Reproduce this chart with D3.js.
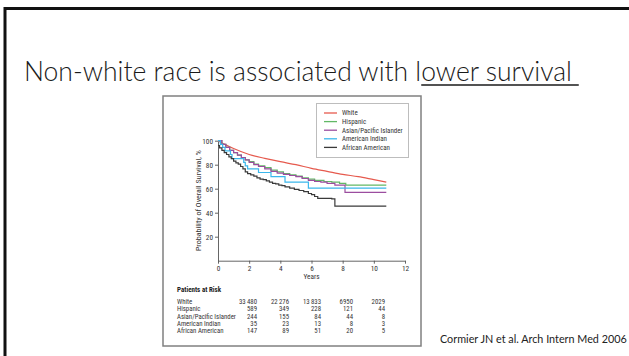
<!DOCTYPE html>
<html>
<head>
<meta charset="utf-8">
<script src="https://cdn.jsdelivr.net/npm/d3@7"></script>
<style>
  body { margin: 0; background: #fff; }
  svg { display: block; }
</style>
</head>
<body>
<script>
// series: [years, % surviving]
const groups = ["White", "Hispanic", "Asian/Pacific Islander", "American Indian", "African American"];
const colors = ["#e65a4e", "#62b866", "#9b4d9f", "#3bb7ec", "#3a3a3a"];

const white = [[0,100],[0.5,96.5],[1,93.5],[2,88.5],[3,85.3],[4,82.5],[5,80],[6,77],[7,74.5],[8,72],[9,70],[10,67.5],[10.8,65.5]];
const hispanic = [[0,100],[0.25,97],[0.5,94.5],[0.75,92],[1,90],[1.25,88],[1.5,86],[1.75,84],[2,82.5],[2.3,80.5],[2.6,79],[3,77.5],[3.4,75.5],[3.8,74],[4.2,72.5],[4.6,71.5],[5,70.5],[5.4,69],[5.8,68],[6.2,67],[6.8,66],[7.3,65.5],[7.8,64.5],[8.2,63],[10.8,63]];
const asian = [[0,100],[0.25,97],[0.5,94.5],[0.75,92],[1,90],[1.25,88],[1.5,86],[1.75,84],[2,82],[2.3,80],[2.6,78.5],[3,76.5],[3.4,74.5],[3.8,73],[4.2,72],[4.6,71],[5,70],[5.4,68.5],[5.8,67],[6.2,66],[6.6,65.5],[7,64.5],[7.5,63],[8.15,57],[10.8,57]];
const amIndian = [[0,100],[0.15,97],[0.3,94.5],[0.45,91.5],[0.8,88.5],[0.9,85],[1.65,82],[1.75,79],[1.9,76.5],[2.6,73.5],[3.4,70],[4.3,65.5],[5.8,60.5],[10.8,60.5]];
const afAm = [[0,96],[0.1,94],[0.25,92],[0.4,90],[0.55,88.5],[0.7,86.5],[0.85,85],[1,83],[1.15,81.5],[1.3,80.5],[1.45,78.5],[1.6,76.5],[1.75,74],[1.9,72.5],[2.1,71.5],[2.3,70.5],[2.5,69],[2.7,68],[2.9,67.5],[3.1,66.5],[3.3,65.5],[3.5,64.5],[3.7,64],[3.9,63],[4.1,62.5],[4.3,61.5],[4.6,60.5],[4.9,59.5],[5.2,58.5],[5.5,57.5],[5.8,56],[6,55],[6.2,53.5],[6.4,52],[7.3,51.5],[7.5,45.5],[10.8,45.5]];
const series = [white, hispanic, asian, amIndian, afAm];

const xTicks = [0, 2, 4, 6, 8, 10, 12];
const yTicks = [20, 40, 60, 80, 100];

// patients at risk table
const riskWhite = ["33\u2009480", "22\u2009276", "13\u2009833", "6950", "2029"];
const riskHispanic = ["589", "349", "228", "121", "44"];
const riskAsian = ["244", "155", "84", "44", "8"];
const riskAmIndian = ["35", "23", "13", "8", "3"];
const riskAfAm = ["147", "89", "51", "20", "5"];
const riskRows = [riskWhite, riskHispanic, riskAsian, riskAmIndian, riskAfAm];

const narrow = "'Liberation Sans Narrow', 'Roboto Condensed', 'Arial Narrow', sans-serif";
const slideFont = "Lato, 'Open Sans', sans-serif";

const svg = d3.select("body").append("svg")
    .attr("width", 629)
    .attr("height", 356);

// slide frame (left + top)
svg.append("path")
    .attr("d", "M5,356V8.5H629")
    .attr("fill", "none")
    .attr("stroke", "#111")
    .attr("stroke-width", 3);

// title
const txt = "Non-white race is associated with lower survival";
const title = svg.append("text")
    .attr("x", 24)
    .attr("y", 81)
    .attr("font-family", slideFont)
    .attr("font-weight", 300)
    .attr("font-size", 26)
    .attr("fill", "#1a1a1a")
    .text(txt);
const tNode = title.node();
const fs = 26 * 548 / tNode.getComputedTextLength();
title.attr("font-size", fs);
const full = tNode.getComputedTextLength();
const uStart = 24 + tNode.getSubStringLength(0, txt.indexOf("lower") + 1);
svg.append("line")
    .attr("x1", uStart).attr("x2", 24 + full + fs * 0.26)
    .attr("y1", 85).attr("y2", 85)
    .attr("stroke", "#1a1a1a").attr("stroke-width", 1.5);

// citation
const cite = svg.append("text")
    .attr("x", 440)
    .attr("y", 343)
    .attr("font-family", slideFont)
    .attr("font-size", 10)
    .attr("fill", "#222")
    .text("Cormier JN et al. Arch Intern Med 2006");
cite.attr("font-size", 10 * 187 / cite.node().getComputedTextLength());

// figure box
svg.append("rect")
    .attr("x", 163).attr("y", 96)
    .attr("width", 258).attr("height", 250)
    .attr("fill", "#fff")
    .attr("stroke", "#808080")
    .attr("stroke-width", 1.5);

const x = d3.scaleLinear().domain([0, 12]).range([218, 405]);
const y = d3.scaleLinear().domain([0, 100]).range([260.7, 140.7]);

const gx = svg.append("g")
    .attr("transform", `translate(0,${y(0)})`)
    .call(d3.axisBottom(x).tickValues(xTicks).tickSize(3).tickSizeOuter(0).tickPadding(2));
const gy = svg.append("g")
    .attr("transform", `translate(${x(0)},0)`)
    .call(d3.axisLeft(y).tickValues(yTicks).tickSize(3).tickSizeOuter(0).tickPadding(2));

[gx, gy].forEach(g => {
    g.select(".domain").attr("stroke", "#555").attr("stroke-width", 0.9);
    g.selectAll(".tick line").attr("stroke", "#555").attr("stroke-width", 0.9);
    g.selectAll(".tick text")
        .attr("font-family", narrow)
        .attr("font-size", 7.3)
        .attr("fill", "#333");
});

svg.append("text")
    .attr("transform", `translate(201,${y(50)}) rotate(-90)`)
    .attr("text-anchor", "middle")
    .attr("font-family", narrow)
    .attr("font-size", 8)
    .attr("fill", "#333")
    .text("Probability of Overall Survival, %");

svg.append("text")
    .attr("x", x(6))
    .attr("y", 279)
    .attr("text-anchor", "middle")
    .attr("font-family", narrow)
    .attr("font-size", 7.3)
    .attr("fill", "#333")
    .text("Years");

// curves
const stepLine = d3.line().x(d => x(d[0])).y(d => y(d[1])).curve(d3.curveStepAfter);
const smoothLine = d3.line().x(d => x(d[0])).y(d => y(d[1])).curve(d3.curveMonotoneX);

svg.append("g").selectAll("path")
    .data(series)
    .enter()
    .append("path")
    .attr("d", (d, i) => i === 0 ? smoothLine(d) : stepLine(d))
    .attr("fill", "none")
    .attr("stroke", (d, i) => colors[i])
    .attr("stroke-width", 1.2);

// legend
svg.append("rect")
    .attr("x", 316.5).attr("y", 103.5)
    .attr("width", 92).attr("height", 54)
    .attr("fill", "#fff")
    .attr("stroke", "#bdbdbd")
    .attr("stroke-width", 1);

const leg = svg.append("g").selectAll("g")
    .data(groups)
    .enter()
    .append("g")
    .attr("transform", (d, i) => `translate(324,${113 + i * 8.6})`);
leg.append("line")
    .attr("x1", 0).attr("x2", 13)
    .attr("stroke", (d, i) => colors[i])
    .attr("stroke-width", 1.3);
leg.append("text")
    .attr("x", 18)
    .attr("dy", "0.35em")
    .attr("font-family", narrow)
    .attr("font-size", 7)
    .attr("fill", "#333")
    .text(d => d);

// patients at risk
svg.append("text")
    .attr("x", 177).attr("y", 290)
    .attr("dy", "0.35em")
    .attr("font-family", narrow)
    .attr("font-size", 7)
    .attr("font-weight", "bold")
    .attr("fill", "#222")
    .text("Patients at Risk");

const col = d3.scaleLinear().domain([0, 4]).range([257, 385]);
const rowY = d3.scaleLinear().domain([0, 4]).range([301.7, 330.7]);

const rows = svg.append("g").selectAll("g")
    .data(riskRows)
    .enter()
    .append("g")
    .attr("transform", (d, i) => `translate(0,${rowY(i)})`);
rows.append("text")
    .attr("x", 177)
    .attr("dy", "0.35em")
    .attr("font-family", narrow)
    .attr("font-size", 6.8)
    .attr("fill", "#333")
    .text((d, i) => groups[i]);
rows.selectAll("text.n")
    .data(d => d)
    .enter()
    .append("text")
    .attr("class", "n")
    .attr("x", (d, j) => col(j))
    .attr("dy", "0.35em")
    .attr("text-anchor", "end")
    .attr("font-family", narrow)
    .attr("font-size", 6.8)
    .attr("fill", "#333")
    .text(d => d);
</script>
</body>
</html>
